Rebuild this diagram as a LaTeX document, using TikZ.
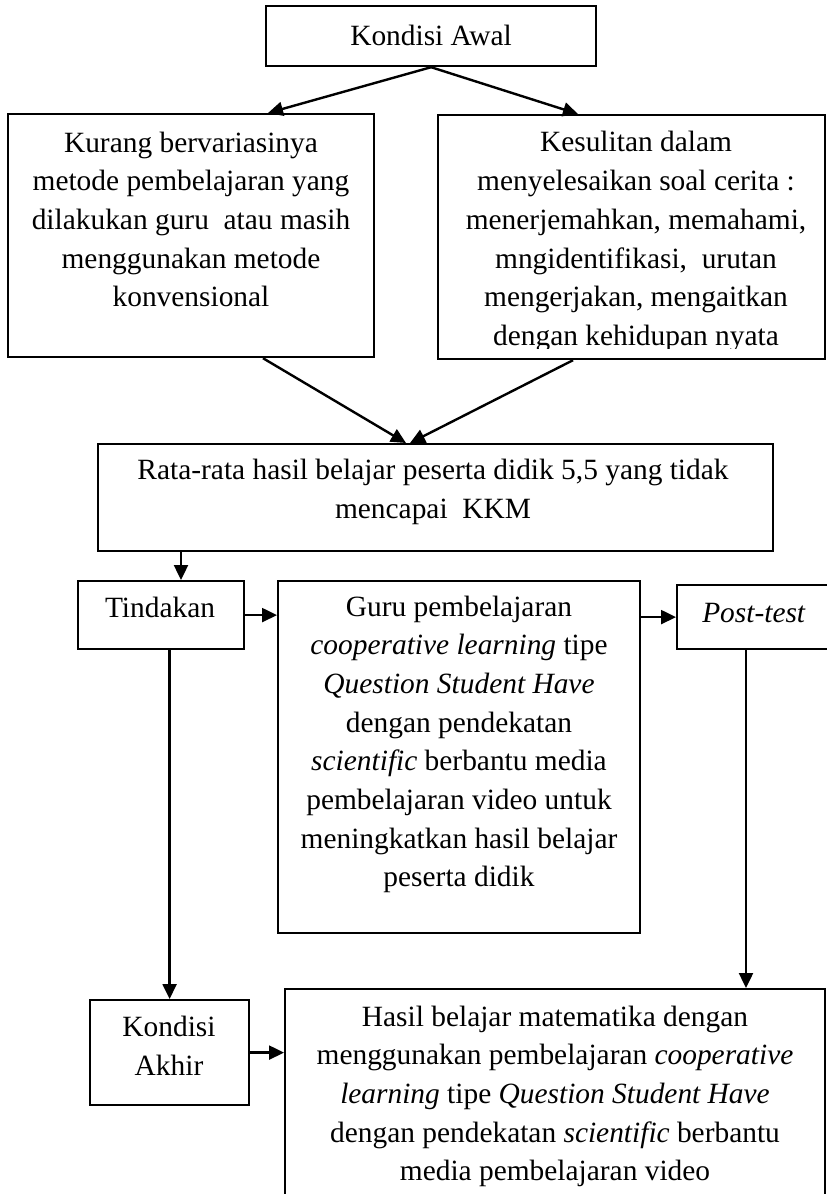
\documentclass[tikz,border=0pt]{standalone}
\usepackage{fontspec}
\setmainfont{Liberation Serif}
\usetikzlibrary{arrows.meta}
\begin{document}
\begin{tikzpicture}[x=1pt,y=-1pt,
  box/.style={draw, line width=2.2pt, inner sep=0pt, anchor=north west},
  txt/.style={align=center, inner sep=0pt, font=\fontsize{29.4}{38.7}\selectfont},
  arr/.style={line width=2.4pt, -{Triangle[length=15pt,width=14pt]}}]
\useasboundingbox (0,0) rectangle (827,1194);
\clip (0,0) rectangle (827,1194);
\fill[white] (0,0) rectangle (827,1194);
% boxes
\node[box, minimum width=330pt, minimum height=60pt] (awal) at (265,5) {};
\node[box, minimum width=366pt, minimum height=243pt] (kiri) at (7,113) {};
\node[box, minimum width=387pt, minimum height=244pt] (kanan) at (437,114) {};
\node[box, minimum width=675pt, minimum height=107pt] (rata) at (97,443) {};
\node[box, minimum width=166pt, minimum height=68pt] (tindakan) at (77,580) {};
\node[box, minimum width=362pt, minimum height=352pt] (guru) at (277,580) {};
\node[box, minimum width=200pt, minimum height=64pt] (post) at (676,584) {};
\node[box, minimum width=159pt, minimum height=105pt] (akhir) at (89,999) {};
\node[box, minimum width=540pt, minimum height=300pt] (hasil) at (284,988) {};
% texts
\node[txt, anchor=base] (tawal) at (431,45) {Kondisi Awal};
\node[txt] (tkiri) at (191,221.7) {\strut Kurang bervariasinya\\metode pembelajaran yang\\dilakukan guru\ \ atau masih\\menggunakan metode\\konvensional\strut};
\begin{scope}
\clip (437,114) rectangle (825,348);
\node[txt] (tkanan) at (636,241) {\strut Kesulitan dalam\\menyelesaikan soal cerita :\\menerjemahkan, memahami,\\mngidentifikasi,\ \ urutan\\mengerjakan, mengaitkan\\dengan kehidupan nyata\strut};
\end{scope}
\node[txt] (trata) at (433,491) {\strut Rata-rata hasil belajar peserta didik 5,5 yang tidak\\mencapai\ \ KKM\strut};
\node[txt, anchor=base] (ttindakan) at (160,617) {Tindakan};
\node[txt] (tguru) at (459,743.7) {\strut Guru pembelajaran\\\textit{cooperative learning} tipe\\\textit{Question Student Have}\\dengan pendekatan\\\textit{scientific} berbantu media\\pembelajaran video untuk\\meningkatkan hasil belajar\\peserta didik\strut};
\node[txt, anchor=base] (tpost) at (754,622) {\textit{Post-test}};
\node[txt] (takhir) at (169,1048.2) {\strut Kondisi\\Akhir\strut};
\node[txt] (thasil) at (555,1095.7) {\strut Hasil belajar matematika dengan\\menggunakan pembelajaran \textit{cooperative}\\\textit{learning} tipe \textit{Question Student Have}\\dengan pendekatan \textit{scientific} berbantu\\media pembelajaran video\strut};
% connectors
\draw[arr] (awal.south) -- ([xshift=261pt]kiri.north west);
\draw[arr] (awal.south) -- ([xshift=141pt]kanan.north west);
\draw[arr] ([xshift=256pt]kiri.south west) -- ([xshift=309pt]rata.north west);
\draw[arr] ([xshift=136pt]kanan.south west) -- ([xshift=313pt]rata.north west);
\draw[arr] ([xshift=84pt]rata.south west) -- ([xshift=104pt]tindakan.north west);
\draw[arr] (tindakan.east) -- (tindakan.east -| guru.west);
\draw[arr] (post.west -| guru.east) -- (post.west);
\draw[arr] (akhir.north |- tindakan.south) -- (akhir.north);
\draw[arr] ([xshift=70pt]post.south west) -- ([xshift=70pt]post.south west |- hasil.north);
\draw[arr] (akhir.east) -- (akhir.east -| hasil.west);
\end{tikzpicture}
\end{document}
